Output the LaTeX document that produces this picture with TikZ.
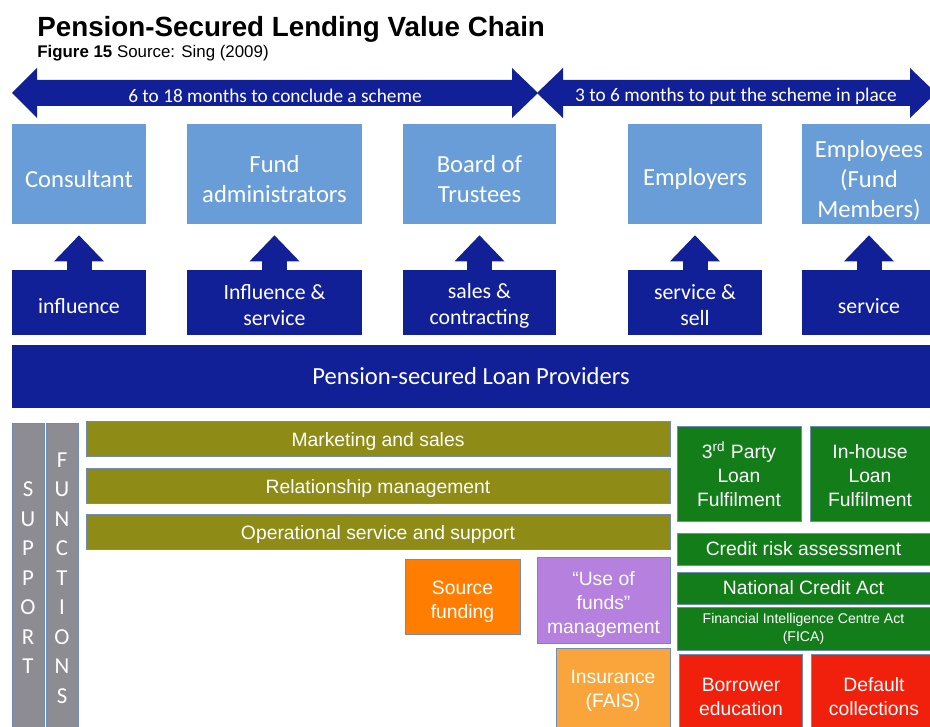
\documentclass[tikz,border=0pt]{standalone}
\usepackage{fontspec}
\setmainfont{Liberation Sans}
\newfontfamily\calfont{Carlito}
\usetikzlibrary{arrows.meta}
\definecolor{paleblue}{RGB}{104,157,216}
\definecolor{deepblue}{RGB}{18,32,152}
\definecolor{olivebar}{RGB}{142,140,22}
\definecolor{leaf}{RGB}{18,125,25}
\definecolor{alarm}{RGB}{240,32,12}
\definecolor{tangerine}{RGB}{255,125,0}
\definecolor{lilac}{RGB}{182,128,222}
\definecolor{apricot}{RGB}{250,165,60}
\definecolor{stone}{RGB}{140,140,146}
\definecolor{edge}{RGB}{112,140,182}
\begin{document}
\begin{tikzpicture}[x=0.2mm, y=-0.2mm,
  party/.style={fill=paleblue, text=white, minimum height=20mm, align=center,
    font=\calfont\fontsize{14}{17}\selectfont},
  role/.style={fill=deepblue, text=white, minimum height=13mm, align=center,
    font=\calfont\fontsize{12.4}{14.8}\selectfont},
  feed/.style={deepblue, line width=5mm, shorten >=2.2mm,
    -{Triangle[width=10mm,length=5.2mm,line width=0pt]}},
  band/.style={fill=olivebar, draw=edge, text=white, minimum width=116.8mm,
    minimum height=6.6mm, font=\fontsize{11}{13.7}\selectfont},
  lender/.style={fill=leaf, draw=edge, text=white, align=center,
    font=\fontsize{11}{13.7}\selectfont},
  extra/.style={draw=edge, text=white, align=center,
    font=\fontsize{11}{13.7}\selectfont},
  pillar/.style={fill=stone, draw=edge, text=white, minimum width=6.4mm,
    minimum height=62mm, align=center, font=\calfont\fontsize{13}{16.8}\selectfont}]
  \clip (0,0) rectangle (930,727);
  \fill[white] (0,0) rectangle (930,727);

  % heading
  \node[anchor=base west, inner sep=0, font=\bfseries\fontsize{15.8}{19}\selectfont] (title) at (37,37) {Pension-Secured Lending Value Chain};
  \node[anchor=base west, inner sep=0, font=\fontsize{9.6}{12}\selectfont] (source) at (37,58) {\textbf{Figure 15} Source: Sing (2009)};

  % time spans
  \fill[deepblue] (12,93) -- (37,68) -- (37,80) -- (512,80) -- (512,68) -- (538,93) -- (512,118) -- (512,106) -- (37,106) -- (37,118) -- cycle;
  \fill[deepblue] (537,93) -- (563,68) -- (563,80) -- (910,80) -- (910,68) -- (936,93) -- (910,118) -- (910,106) -- (563,106) -- (563,118) -- cycle;
  \node[text=white, font=\calfont\fontsize{11}{13}\selectfont] (conclude) at (275,96) {6 to 18 months to conclude a scheme};
  \node[text=white, font=\calfont\fontsize{11}{13}\selectfont] (inplace) at (736,96) {3 to 6 months to put the scheme in place};

  % parties
  \node[party, minimum width=26.8mm] (cons) at (79,174) {\rule{0pt}{15.5pt}Consultant};
  \node[party, minimum width=35mm] (fadm) at (274.5,174) {\rule{0pt}{15.5pt}Fund\\administrators};
  \node[party, minimum width=30.6mm] (board) at (479.5,174) {\rule{0pt}{15.5pt}Board of\\Trustees};
  \node[party, minimum width=26.8mm] (empl) at (695,174) {\rule{0pt}{15.5pt}Employers};
  \node[party, minimum width=26.8mm, inner ysep=0pt] (memb) at (869,174) {\rule{0pt}{17.5pt}Employees\\(Fund\\Members)};

  % roles
  \node[role, minimum width=26.8mm] (inf) at (79,302.5) {\rule{0pt}{12.5pt}influence};
  \node[role, minimum width=35mm] (infserv) at (274.5,302.5) {\rule{0pt}{12pt}Influence \&\\service};
  \node[role, minimum width=30.6mm] (sales) at (479.5,302.5) {\rule{0pt}{12pt}sales \&\\contracting};
  \node[role, minimum width=26.8mm] (sell) at (695,302.5) {\rule{0pt}{12pt}service \&\\sell};
  \node[role, minimum width=26.8mm] (serv) at (869,302.5) {\rule{0pt}{12.5pt}service};

  \draw[feed] (inf) -- (cons);
  \draw[feed] (infserv) -- (fadm);
  \draw[feed] (sales) -- (board);
  \draw[feed] (sell) -- (empl);
  \draw[feed] (serv) -- (memb);

  \node[role, minimum width=183.6mm, minimum height=12.6mm, font=\calfont\fontsize{14}{17}\selectfont] (providers) at (471,376.5) {Pension-secured Loan Providers};

  % support functions
  \node[pillar] (support) at (28,578) {S\\U\\P\\P\\O\\R\\T};
  \node[pillar] (functions) at (62,578) {F\\U\\N\\C\\T\\I\\O\\N\\S};

  \node[band] (mkt) at (378,439) {\rule{0pt}{11pt}Marketing and sales};
  \node[band] (rel) at (378,485.5) {\rule{0pt}{11pt}Relationship management};
  \node[band] (ops) at (378,531.5) {\rule{0pt}{11pt}Operational service and support};

  % loan side
  \node[lender, minimum width=24.8mm, minimum height=19mm] (third) at (739,473.5) {\rule{0pt}{10.8pt}3\textsuperscript{rd} Party\\Loan\\Fulfilment};
  \node[lender, minimum width=24mm, minimum height=19mm] (inhouse) at (870,473.5) {\rule{0pt}{10.8pt}In-house\\Loan\\Fulfilment};
  \node[lender, minimum width=50.6mm, minimum height=6.4mm] (credit) at (803.5,549) {Credit risk assessment};
  \node[lender, minimum width=50.6mm, minimum height=6.4mm] (nca) at (803.5,588) {National Credit Act};
  \node[lender, minimum width=50.6mm, minimum height=6.6mm, font=\fontsize{8}{10.2}\selectfont] (fica) at (803.5,629) {Financial Intelligence Centre Act\\(FICA)};

  \node[extra, fill=tangerine, minimum width=23mm, minimum height=15mm] (funding) at (462.5,597) {\rule{0pt}{13pt}Source\\funding};
  \node[extra, fill=lilac, minimum width=26.6mm, minimum height=15mm] (usefunds) at (603.5,600.5) {\rule{0pt}{12.5pt}``Use of\\funds''\\management};
  \node[extra, fill=apricot, minimum width=22.8mm, minimum height=17mm] (fais) at (613,691) {Insurance\\(FAIS)};
  \node[extra, fill=alarm, minimum width=24.6mm, minimum height=17mm] (educ) at (741,697) {Borrower\\education};
  \node[extra, fill=alarm, minimum width=25mm, minimum height=17mm] (collect) at (874,697) {Default\\collections};
\end{tikzpicture}
\end{document}
